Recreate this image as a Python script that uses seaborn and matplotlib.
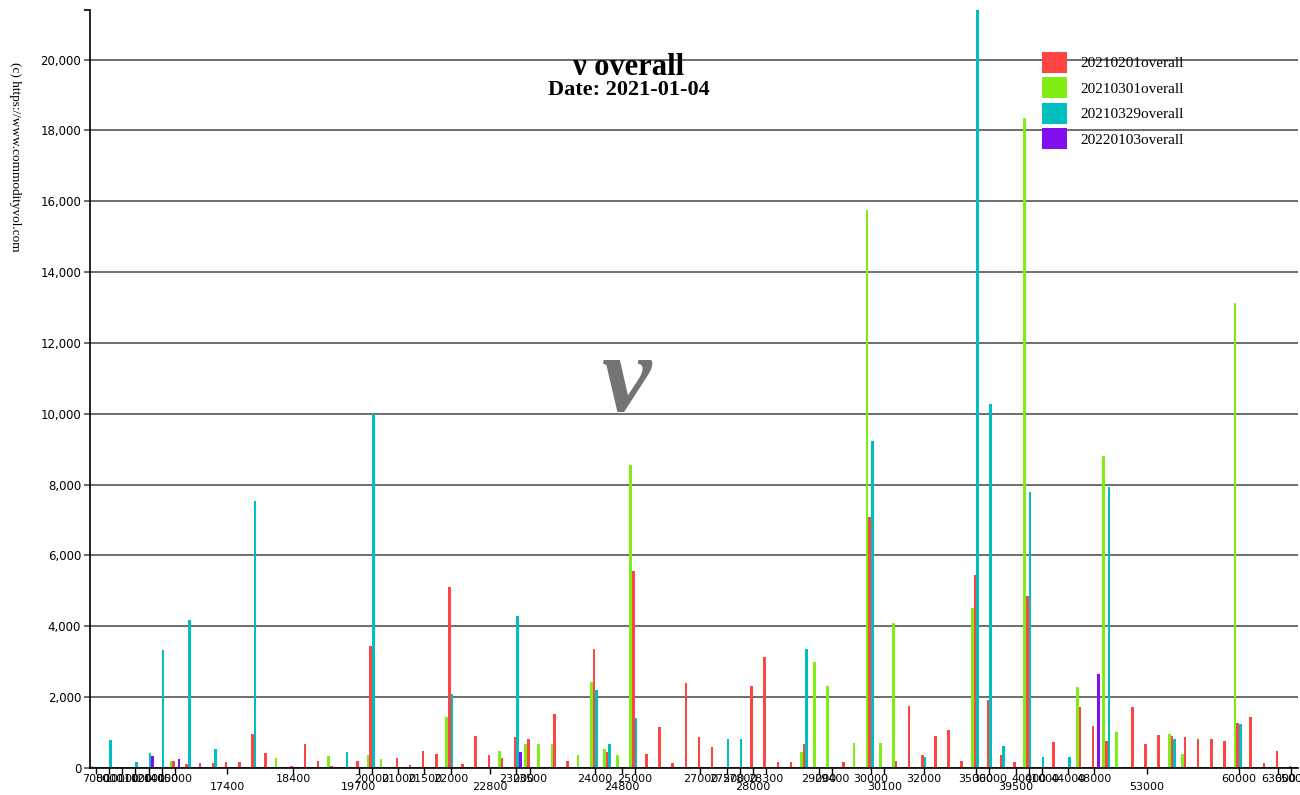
import pandas as pd
import seaborn as sns
import matplotlib.pyplot as plt
from matplotlib.patches import Patch
from matplotlib.ticker import FuncFormatter

# strike categories (band scale, one slot each)
strikes = ['7000', '8000', '10000', '11000', '12000', '14000', '15000', '16000', '16500', '17000',
           '17400', '17600', '17800', '18000', '18200', '18400', '18600', '18800', '19000', '19500',
           '19700', '20000', '20500', '21000', '21250', '21500', '21750', '22000', '22250', '22500',
           '22800', '22900', '23000', '23500', '23600', '23700', '23800', '23900', '24000', '24500',
           '24800', '25000', '25500', '26000', '26250', '26500', '27000', '27250', '27500', '27800',
           '28000', '28300', '28400', '28500', '28800', '29000', '29400', '29500', '29800', '30000',
           '30100', '30500', '31000', '32000', '33000', '34000', '34500', '35000', '36000', '38000',
           '39500', '40000', '41000', '42000', '44000', '45000', '48000', '50000', '51000', '52000',
           '53000', '54000', '55000', '56000', '57000', '58000', '59000', '60000', '61000', '62000',
           '63000', '65000']

s20210201 = [0, 0, 30, 0, 0, 40, 195, 120, 130, 145,
             175, 165, 965, 410, 0, 50, 670, 210, 60, 0,
             185, 3450, 0, 275, 90, 475, 400, 5120, 100, 905,
             380, 295, 870, 805, 0, 1535, 210, 0, 3360, 465,
             0, 5550, 390, 1150, 135, 2395, 870, 580, 0, 0,
             2310, 3125, 165, 165, 665, 0, 0, 165, 0, 7100,
             0, 185, 1755, 360, 900, 1065, 185, 5440, 1915, 355,
             165, 4865, 0, 740, 0, 1735, 1190, 765, 0, 1715,
             680, 945, 905, 870, 830, 805, 775, 1265, 1435, 155,
             475, 70]

s20210301 = [60, 0, 0, 0, 0, 0, 210, 0, 0, 0,
             0, 0, 0, 0, 270, 0, 0, 0, 325, 0,
             0, 355, 240, 0, 0, 0, 0, 1450, 0, 0,
             0, 485, 0, 665, 665, 665, 0, 355, 2420, 540,
             370, 8550, 0, 0, 0, 0, 0, 0, 0, 0,
             0, 0, 0, 0, 465, 2985, 2310, 0, 700, 15740,
             710, 4095, 0, 0, 0, 0, 0, 4520, 0, 0,
             0, 18360, 0, 0, 0, 2300, 0, 8800, 1030, 0,
             0, 0, 965, 390, 0, 0, 0, 13115, 0, 0,
             0, 0]

s20210329 = [0, 800, 0, 165, 430, 3340, 0, 4190, 0, 530,
             0, 0, 7550, 0, 0, 0, 0, 0, 0, 450,
             0, 10000, 0, 0, 0, 0, 0, 2080, 0, 0,
             0, 0, 4300, 0, 0, 0, 0, 0, 2205, 690,
             0, 1415, 0, 0, 0, 0, 0, 0, 805, 805,
             0, 0, 0, 0, 3360, 0, 0, 0, 0, 9220,
             0, 0, 0, 305, 0, 0, 0, 21400, 10290, 635,
             0, 7785, 305, 0, 305, 0, 0, 7925, 0, 0,
             0, 0, 805, 0, 0, 0, 0, 1235, 0, 0,
             0, 0]

s20220103 = [0, 0, 0, 0, 335, 0, 240, 0, 0, 0,
             0, 0, 0, 0, 0, 0, 0, 0, 0, 0,
             0, 0, 0, 0, 0, 0, 0, 0, 0, 0,
             0, 0, 457, 0, 0, 0, 0, 0, 0, 0,
             0, 0, 0, 0, 0, 0, 0, 0, 0, 0,
             0, 0, 0, 0, 0, 0, 0, 0, 0, 0,
             0, 0, 0, 0, 0, 0, 0, 0, 0, 0,
             0, 0, 0, 0, 0, 0, 2655, 0, 0, 0,
             0, 0, 0, 0, 0, 0, 0, 0, 0, 0,
             0, 0]

# labelled strikes, first and second row
top_labels = ['7000', '8000', '10000', '11000', '12000', '14000', '15000', '18400', '20000',
              '21000', '21500', '22000', '23000', '23500', '24000', '25000', '27000', '27500',
              '27800', '28300', '29000', '29400', '30000', '32000', '35000', '36000', '40000',
              '41000', '44000', '48000', '60000', '63000', '65000']
bottom_labels = ['17400', '19700', '22800', '24800', '28000', '30100', '39500', '53000']

series_names = ['20210201overall', '20210301overall', '20210329overall', '20220103overall']
colors = {'20210201overall': '#ff4444', '20210301overall': '#80ee14',
          '20210329overall': '#00bfbf', '20220103overall': '#8010ee'}
# bar order inside a band
draw_order = ['20210301overall', '20210201overall', '20210329overall', '20220103overall']

df = pd.DataFrame({
    'strike': strikes * 4,
    'series': [n for n in series_names for _ in strikes],
    'value': s20210201 + s20210301 + s20210329 + s20220103,
})

W, H = 1300, 795
fig = plt.figure(figsize=(13, 7.95), dpi=100)
ax = fig.add_axes([89.5 / W, 1 - 768 / H, (1298 - 89.5) / W, (768 - 10) / H])

sns.barplot(data=df, x='strike', y='value', hue='series', order=strikes,
            hue_order=draw_order, palette=colors, saturation=1, errorbar=None,
            width=0.8, linewidth=0, ax=ax)

ymax = df['value'].max()
ax.set_ylim(0, ymax)
ax.set_xlim(-0.5, len(strikes) - 0.5)
ax.set_yticks(range(0, 20001, 2000))
ax.set_yticks([ymax], minor=True)
ax.yaxis.set_major_formatter(FuncFormatter(lambda v, p: f'{v:,.0f}'))
ax.yaxis.grid(True, color='#555555', lw=1.2)
ax.set_axisbelow(True)

pos = [strikes.index(s) for s in top_labels + bottom_labels]
labs = top_labels + ['\n' + s for s in bottom_labels]
ax.set_xticks(pos)
ax.set_xticklabels(labs, linespacing=0.85)

ax.tick_params(axis='y', which='major', length=4, width=1.2, color='#555555',
               labelsize=8.5, pad=2)
ax.tick_params(axis='y', which='minor', length=4, width=1.2, color='black')
ax.tick_params(axis='x', length=4, width=1, labelsize=8, pad=0)
ax.set_xlabel('')
ax.set_ylabel('')
for side in ['top', 'right']:
    ax.spines[side].set_visible(False)
ax.spines['left'].set_linewidth(1.2)
ax.spines['bottom'].set_linewidth(1.2)

ax.get_legend().remove()
handles = [Patch(facecolor=colors[n], label=n) for n in series_names]
fig.legend(handles=handles, loc='upper left', bbox_to_anchor=(1041.7 / W, 1 - 51.7 / H),
           frameon=False, borderpad=0, borderaxespad=0, handlelength=1.675,
           handleheight=1.72, labelspacing=0.31, handletextpad=0.83,
           prop={'family': ['Liberation Serif', 'DejaVu Serif'], 'size': 11})

serif = ['Liberation Serif', 'DejaVu Serif']
fig.text(629 / W, 1 - 75 / H, 'ν overall', ha='center', va='baseline',
         family=serif, weight='bold', size=22)
fig.text(629 / W, 1 - 95 / H, 'Date: 2021-01-04', ha='center', va='baseline',
         family=serif, weight='bold', size=16)
fig.text(627 / W, 1 - 384 / H, 'ν', ha='center', va='center', family=serif,
         style='italic', weight='bold', size=80, color='#747474')
fig.text(15 / W, 1 - 157 / H, '(c) https://www.commodityvol.com', rotation=-90,
         ha='center', va='center', family=serif, size=9.5)

fig.savefig('out.png', dpi=100, facecolor='white')
